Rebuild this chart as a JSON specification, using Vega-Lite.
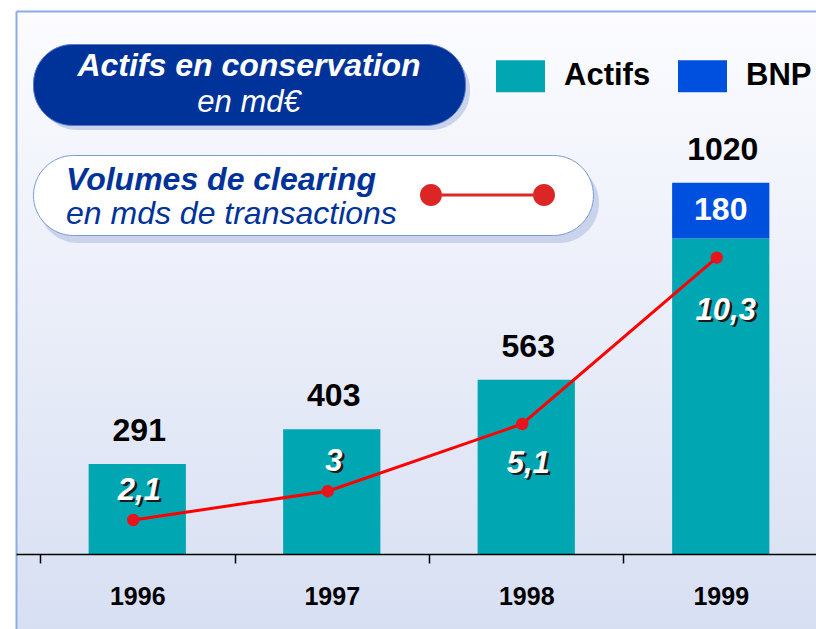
{
  "$schema": "https://vega.github.io/schema/vega-lite/v6.json",
  "width": 800,
  "height": 618,
  "autosize": {"type": "none"},
  "padding": {"left": 16, "top": 11, "right": 0, "bottom": 0},
  "background": "#ffffff",
  "title": {
    "text": "Volumes de clearing",
    "subtitle": "en mds de transactions",
    "anchor": "start",
    "frame": "group",
    "orient": "top",
    "align": "left",
    "offset": 0,
    "dx": 50,
    "dy": 220,
    "font": "Liberation Sans",
    "fontSize": 32,
    "fontStyle": "italic",
    "fontWeight": "bold",
    "color": "#003399",
    "subtitleFont": "Liberation Sans",
    "subtitleFontSize": 32,
    "subtitleFontStyle": "italic",
    "subtitleFontWeight": "normal",
    "subtitleColor": "#003399",
    "subtitlePadding": 2
  },
  "datasets": {
    "actifs": [
      {"annee": "1996", "serie": "Actifs", "valeur": 291, "indicateur": "Actifs en conservation", "unite": "en md€"},
      {"annee": "1997", "serie": "Actifs", "valeur": 403, "indicateur": "Actifs en conservation", "unite": "en md€"},
      {"annee": "1998", "serie": "Actifs", "valeur": 563, "indicateur": "Actifs en conservation", "unite": "en md€"},
      {"annee": "1999", "serie": "Actifs", "valeur": 1020, "indicateur": "Actifs en conservation", "unite": "en md€"},
      {"annee": "1999", "serie": "BNP", "valeur": 180, "indicateur": "Actifs en conservation", "unite": "en md€"}
    ],
    "clearing": [
      {"annee": "1996", "serie": "Volumes de clearing", "unite": "en mds de transactions", "volume": 2.1},
      {"annee": "1997", "serie": "Volumes de clearing", "unite": "en mds de transactions", "volume": 3},
      {"annee": "1998", "serie": "Volumes de clearing", "unite": "en mds de transactions", "volume": 5.1},
      {"annee": "1999", "serie": "Volumes de clearing", "unite": "en mds de transactions", "volume": 10.3}
    ]
  },
  "layer": [
    {
      "data": {"name": "actifs"},
      "encoding": {
        "x": {
          "field": "annee",
          "type": "nominal",
          "sort": null,
          "scale": {"paddingInner": 0.5, "paddingOuter": 0.3066, "align": 0.609},
          "axis": {
            "title": null,
            "orient": "bottom",
            "offset": -75,
            "grid": false,
            "domainColor": "#000000",
            "domainWidth": 1.5,
            "tickColor": "#000000",
            "tickWidth": 1.5,
            "tickSize": 9,
            "tickOffset": -97.25,
            "labelOffset": 97.25,
            "labelAngle": 0,
            "labelFontSize": 25,
            "labelFontWeight": "bold",
            "labelColor": "#000000",
            "labelPadding": 21,
            "zindex": 1
          }
        }
      },
      "layer": [
        {
          "mark": {"type": "bar"},
          "encoding": {
            "y": {
              "field": "valeur",
              "type": "quantitative",
              "stack": "zero",
              "scale": {"domain": [-242.5, 1755.5], "nice": false, "zero": false},
              "axis": {"orient": "left", "title": null, "domain": true, "domainColor": "#8eaae2", "domainWidth": 2, "ticks": false, "labels": false, "grid": false}
            },
            "order": {"field": "serie", "sort": "ascending"},
            "color": {
              "field": "serie",
              "type": "nominal",
              "scale": {"domain": ["Actifs", "BNP"], "range": ["#00a7b3", "#0050e0"]},
              "legend": {
                "orient": "none",
                "legendX": 480,
                "legendY": 49.5,
                "direction": "horizontal",
                "title": null,
                "symbolType": "M-24.5,-16H24.5V16H-24.5Z",
                "symbolSize": 4,
                "symbolStrokeWidth": 0,
                "symbolOffset": 9,
                "labelOffset": 28,
                "labelFontSize": 31,
                "labelFontWeight": "bold",
                "labelColor": "#000000",
                "labelBaseline": "middle",
                "labelLimit": 300,
                "columnPadding": 27,
                "padding": 0
              }
            },
            "strokeDash": {
              "field": "indicateur",
              "type": "nominal",
              "scale": {"range": [[1, 0]]},
              "legend": {
                "orient": "none",
                "legendX": 22,
                "legendY": 40,
                "title": null,
                "labelExpr": "''",
                "labelFontSize": 10,
                "symbolType": "M-5,-5M427,74",
                "symbolSize": 4,
                "symbolStrokeWidth": 0,
                "symbolOffset": 0,
                "padding": 0,
                "fillColor": "#c9d3eb",
                "cornerRadius": 39
              }
            },
            "opacity": {
              "field": "unite",
              "type": "ordinal",
              "scale": {"range": [1, 1]},
              "legend": {
                "orient": "none",
                "legendX": 17,
                "legendY": 33,
                "title": "Actifs en conservation",
                "titleFontSize": 32,
                "titleFontStyle": "italic",
                "titleFontWeight": "bold",
                "titleColor": "#ffffff",
                "titleAnchor": "middle",
                "titlePadding": 4,
                "titleLimit": 1000,
                "labelFontSize": 31,
                "labelFontStyle": "italic",
                "labelColor": "#ffffff",
                "labelAlign": "center",
                "labelBaseline": "middle",
                "labelOffset": 178,
                "labelLimit": 1000,
                "symbolType": "M-15.5,-15.5M402.5,15.5",
                "symbolSize": 4,
                "symbolStrokeWidth": 0,
                "symbolOffset": 0,
                "padding": 7,
                "fillColor": "#003399",
                "strokeColor": "#5a78c8",
                "cornerRadius": 39
              }
            }
          }
        },
        {
          "transform": [
            {"joinaggregate": [{"op": "sum", "field": "valeur", "as": "total"}], "groupby": ["annee"]},
            {"filter": "datum.serie === 'Actifs'"}
          ],
          "mark": {"type": "text", "fontSize": 32, "fontWeight": "bold", "color": "#000000", "baseline": "alphabetic", "align": "center", "dy": -23, "dx": 2},
          "encoding": {
            "y": {"field": "total", "type": "quantitative"},
            "text": {"field": "valeur", "type": "quantitative", "format": "d"}
          }
        },
        {
          "transform": [
            {"stack": "valeur", "groupby": ["annee"], "sort": [{"field": "serie", "order": "ascending"}], "as": ["v0", "v1"]},
            {"filter": "datum.serie === 'BNP'"}
          ],
          "mark": {"type": "text", "fontSize": 32, "fontWeight": "bold", "color": "#ffffff", "baseline": "alphabetic", "align": "center", "dy": 37},
          "encoding": {
            "y": {"field": "v1", "type": "quantitative"},
            "text": {"field": "valeur", "type": "quantitative", "format": "d"}
          }
        }
      ]
    },
    {
      "data": {"name": "clearing"},
      "encoding": {
        "x": {
          "field": "annee",
          "type": "nominal",
          "sort": null,
          "axis": {"orient": "top", "title": null, "domain": true, "domainColor": "#8eaae2", "domainWidth": 2, "ticks": false, "labels": false, "grid": false}
        }
      },
      "layer": [
        {
          "mark": {"type": "line", "strokeWidth": 3, "xOffset": -4},
          "encoding": {
            "y": {"field": "volume", "type": "quantitative", "scale": {"domain": [-1.306, 18.006], "nice": false, "zero": false}, "axis": null},
            "size": {
              "field": "unite",
              "type": "ordinal",
              "scale": {"range": [3, 3]},
              "legend": {
                "orient": "none",
                "legendX": 22,
                "legendY": 152,
                "title": null,
                "labelExpr": "''",
                "labelFontSize": 10,
                "symbolType": "M-5.774,-5.774M640.88,86.6",
                "symbolStrokeWidth": 0,
                "symbolOffset": 0,
                "padding": 0,
                "fillColor": "#c9d3eb",
                "cornerRadius": 40
              }
            },
            "stroke": {
              "field": "serie",
              "type": "nominal",
              "scale": {"range": ["#ff0000"]},
              "legend": {
                "orient": "none",
                "legendX": 17,
                "legendY": 144,
                "title": null,
                "labelExpr": "''",
                "labelFontSize": 10,
                "symbolType": "M-5,-5M555,75M404,33.5H495V36.5H404ZM382,35A11,11,0,1,1,404,35A11,11,0,1,1,382,35ZM495,35A11,11,0,1,1,517,35A11,11,0,1,1,495,35Z",
                "symbolSize": 4,
                "symbolStrokeWidth": 0,
                "symbolOffset": 0,
                "padding": 0,
                "fillColor": "#ffffff",
                "strokeColor": "#7b9ad8",
                "cornerRadius": 40,
                "encode": {"symbols": {"update": {"fill": {"value": "#dc2626"}, "stroke": {"value": "#dc2626"}, "strokeWidth": {"value": 0}}}}
              }
            }
          }
        },
        {
          "mark": {"type": "circle", "size": 154, "color": "#e8141b", "opacity": 1, "xOffset": -4},
          "encoding": {
            "y": {"field": "volume", "type": "quantitative"}
          }
        },
        {
          "transform": [{"filter": "datum.annee === '1996' || datum.annee === '1997'"}],
          "mark": {"type": "text", "fontSize": 31, "fontStyle": "italic", "fontWeight": "bold", "color": "#1a1a1a", "baseline": "alphabetic", "align": "center", "dx": 4.5, "dy": -18},
          "encoding": {"y": {"field": "volume", "type": "quantitative"}, "text": {"field": "volume", "type": "quantitative", "format": ".3~g"}}
        },
        {
          "transform": [{"filter": "datum.annee === '1996' || datum.annee === '1997'"}],
          "mark": {"type": "text", "fontSize": 31, "fontStyle": "italic", "fontWeight": "bold", "color": "#ffffff", "baseline": "alphabetic", "align": "center", "dx": 2, "dy": -20},
          "encoding": {"y": {"field": "volume", "type": "quantitative"}, "text": {"field": "volume", "type": "quantitative", "format": ".3~g"}}
        },
        {
          "transform": [{"filter": "datum.annee === '1998'"}],
          "mark": {"type": "text", "fontSize": 31, "fontStyle": "italic", "fontWeight": "bold", "color": "#1a1a1a", "baseline": "alphabetic", "align": "center", "dx": 4.5, "dy": 51},
          "encoding": {"y": {"field": "volume", "type": "quantitative"}, "text": {"field": "volume", "type": "quantitative", "format": ".3~g"}}
        },
        {
          "transform": [{"filter": "datum.annee === '1998'"}],
          "mark": {"type": "text", "fontSize": 31, "fontStyle": "italic", "fontWeight": "bold", "color": "#ffffff", "baseline": "alphabetic", "align": "center", "dx": 2, "dy": 49},
          "encoding": {"y": {"field": "volume", "type": "quantitative"}, "text": {"field": "volume", "type": "quantitative", "format": ".3~g"}}
        },
        {
          "transform": [{"filter": "datum.annee === '1999'"}],
          "mark": {"type": "text", "fontSize": 31, "fontStyle": "italic", "fontWeight": "bold", "color": "#1a1a1a", "baseline": "alphabetic", "align": "center", "dx": 7.5, "dy": 64},
          "encoding": {"y": {"field": "volume", "type": "quantitative"}, "text": {"field": "volume", "type": "quantitative", "format": ".3~g"}}
        },
        {
          "transform": [{"filter": "datum.annee === '1999'"}],
          "mark": {"type": "text", "fontSize": 31, "fontStyle": "italic", "fontWeight": "bold", "color": "#ffffff", "baseline": "alphabetic", "align": "center", "dx": 5, "dy": 62},
          "encoding": {"y": {"field": "volume", "type": "quantitative"}, "text": {"field": "volume", "type": "quantitative", "format": ".3~g"}}
        }
      ]
    }
  ],
  "resolve": {"scale": {"y": "independent"}, "axis": {"x": "independent"}},
  "config": {
    "font": "Liberation Sans",
    "locale": {"number": {"decimal": ",", "thousands": " ", "grouping": [3], "currency": ["", " €"]}},
    "view": {
      "fill": {"gradient": "linear", "x1": 0, "y1": 0, "x2": 0, "y2": 1, "stops": [{"offset": 0, "color": "#fcfcff"}, {"offset": 1, "color": "#d7dff2"}]},
      "stroke": null
    }
  }
}
